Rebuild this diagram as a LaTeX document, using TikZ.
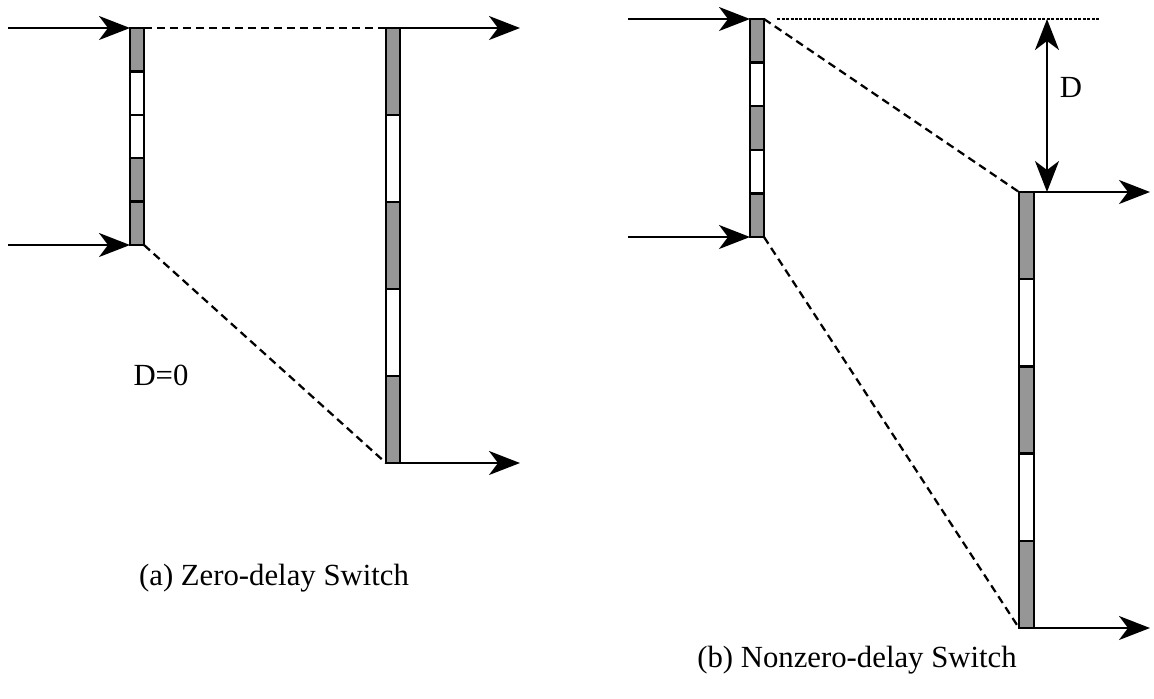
\documentclass[tikz,border=0pt]{standalone}
\usepackage{fontspec}
\setmainfont{Liberation Serif}
\usetikzlibrary{arrows.meta}

\definecolor{slotgray}{RGB}{150,150,150}

\begin{document}
\begin{tikzpicture}[x=0.02cm,y=-0.02cm,line width=0.045cm,
  >={Stealth[length=0.62cm,width=0.48cm,inset=0.18cm]},
  link/.style={dash pattern=on 0.16cm off 0.1cm},
  level/.style={line width=0.055cm,dash pattern=on 0.06cm off 0.03cm},
  lbl/.style={font=\fontsize{17.5}{21}\selectfont}]
\useasboundingbox (0,0) rectangle (1154,698);

% (a) zero-delay
\def\Al{43.4}
\def\Bl{87}
\foreach \c [count=\i from 0] in {slotgray,white,white,slotgray,slotgray}
  \filldraw[fill=\c] (130,28+\i*\Al) rectangle ++(14,\Al);
\foreach \c [count=\i from 0] in {slotgray,white,slotgray,white,slotgray}
  \filldraw[fill=\c] (386,28+\i*\Bl) rectangle ++(14,\Bl);

\coordinate (Ain1) at (130,28);
\coordinate (Ain2) at (130,245);
\coordinate (Aout1) at (400,28);
\coordinate (Aout2) at (400,463);
\coordinate (Asrc1) at (8,28);
\coordinate (Asrc2) at (8,245);
\coordinate (Adst1) at (520,28);
\coordinate (Adst2) at (520,463);

\draw[->] (Asrc1) -- (Ain1);
\draw[->] (Asrc2) -- (Ain2);
\draw[->] (Aout1) -- (Adst1);
\draw[->] (Aout2) -- (Adst2);
\draw[link] (144,28) -- (386,28);
\draw[link] (144,245) -- (386,463);

\node[lbl] (Alabel) at (161,375) {D=0};
\node[lbl] (Acap) at (274,578) {(a) Zero-delay Switch};

% (b) nonzero-delay
\foreach \c [count=\i from 0] in {slotgray,white,slotgray,white,slotgray}
  \filldraw[fill=\c] (750,19+\i*43.6) rectangle ++(14,43.6);
\foreach \c [count=\i from 0] in {slotgray,white,slotgray,white,slotgray}
  \filldraw[fill=\c] (1019,192+\i*87.2) rectangle ++(15,87.2);

\coordinate (Bin1) at (750,19);
\coordinate (Bin2) at (750,237);
\coordinate (Bout1) at (1034,192);
\coordinate (Bout2) at (1034,628);
\coordinate (Bsrc1) at (628,19);
\coordinate (Bsrc2) at (628,237);
\coordinate (Bdst1) at (1150,192);
\coordinate (Bdst2) at (1150,628);

\draw[->] (Bsrc1) -- (Bin1);
\draw[->] (Bsrc2) -- (Bin2);
\draw[->] (Bout1) -- (Bdst1);
\draw[->] (Bout2) -- (Bdst2);
\draw[link] (764,19) -- (1019,192);
\draw[link] (764,237) -- (1019,628);
\draw[level] (777,19) -- (1100,19);

\coordinate (Dtop) at (1047,19);
\coordinate (Dbot) at (1047,192);
\draw[<->] (Dtop) -- (Dbot);
\node[lbl] (Blabel) at (1071,87) {D};
\node[lbl] (Bcap) at (857,660) {(b) Nonzero-delay Switch};

\end{tikzpicture}
\end{document}
